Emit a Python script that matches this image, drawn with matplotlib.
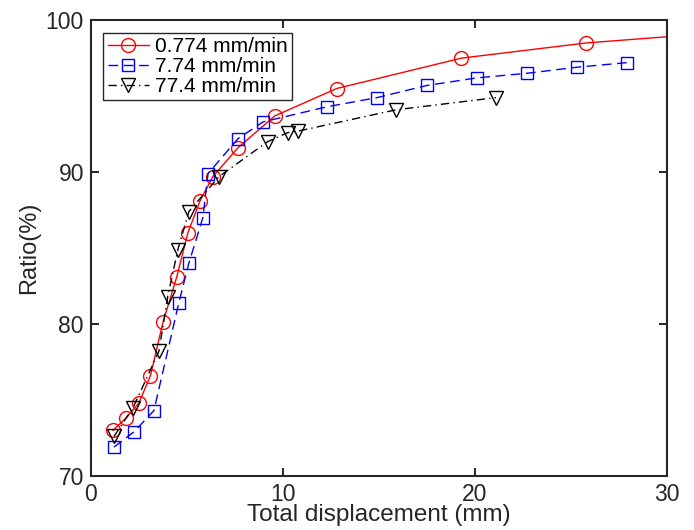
import matplotlib.pyplot as plt
import numpy as np

plt.rcParams['font.family'] = ['Liberation Sans', 'DejaVu Sans']

# 0.774 mm/min (last point lies outside the axes, line is clipped)
x1 = [1.15, 1.82, 2.5, 3.1, 3.75, 4.47, 5.05, 5.68, 6.35, 7.66, 9.58, 12.8, 19.3, 25.8, 32.0]
y1 = [73.0, 73.8, 74.8, 76.6, 80.1, 83.1, 86.0, 88.1, 89.7, 91.6, 93.7, 95.5, 97.5, 98.5, 99.1]

# 7.74 mm/min
x2 = [1.2, 2.24, 3.28, 4.58, 5.1, 5.83, 6.1, 7.66, 8.96, 12.3, 14.9, 17.5, 20.1, 22.7, 25.3, 27.9]
y2 = [71.9, 72.9, 74.3, 81.4, 84.0, 87.0, 89.9, 92.2, 93.3, 94.3, 94.9, 95.7, 96.2, 96.5, 96.9, 97.2]

# 77.4 mm/min
x3 = [1.2, 2.2, 3.54, 4.0, 4.53, 5.1, 6.67, 9.2, 10.26, 10.8, 15.9, 21.1]
y3 = [72.6, 74.5, 78.2, 81.8, 84.9, 87.4, 89.7, 92.0, 92.6, 92.7, 94.1, 94.9]

labels = ['0.774 mm/min', '7.74 mm/min', '77.4 mm/min']

fig = plt.figure(figsize=(6.94, 5.30), dpi=100)
ax = fig.add_axes([0.131, 0.102, 0.83, 0.86])

ax.plot(x1, y1, '-', color='red', lw=1.0, marker='o', ms=10, mfc='none', mew=1.0, label=labels[0])
ax.plot(x2, y2, '--', color='blue', lw=1.0, marker='s', ms=8.5, mfc='none', mew=1.0,
        dashes=(7, 4), label=labels[1])
ax.plot(x3, y3, '-.', color='black', lw=1.0, marker='v', ms=10, mfc='none', mew=1.0,
        dashes=(6, 3, 1, 3), label=labels[2])

ax.set_xlim(0, 30)
ax.set_ylim(70, 100)
ax.set_xticks([0, 10, 20, 30])
ax.set_yticks([70, 80, 90, 100])
ax.tick_params(direction='in', top=True, right=True, length=6, width=1.2,
               labelsize=16.5, labelcolor='#262626', pad=5)
for s in ax.spines.values():
    s.set_linewidth(1.5)
    s.set_color('#262626')

ax.set_xlabel('Total displacement (mm)', fontsize=17.5, color='#262626', labelpad=-1)
ax.set_ylabel('Ratio(%)', fontsize=17, color='#262626', labelpad=4)

leg = ax.legend(loc='upper left', fontsize=15, fancybox=False, framealpha=1,
                edgecolor='#262626', borderpad=0.2, labelspacing=0.05,
                handlelength=2.0, handletextpad=0.3, borderaxespad=0.6)
leg.get_frame().set_linewidth(1.0)

fig.savefig('out.png', dpi=100)
